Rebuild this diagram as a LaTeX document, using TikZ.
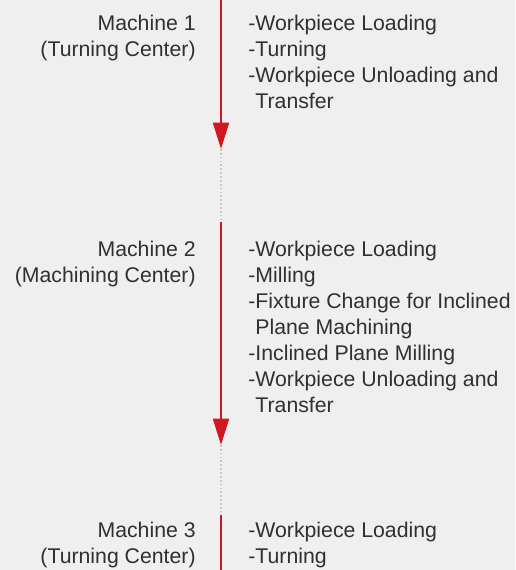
\documentclass[tikz,border=0pt]{standalone}
\usepackage{fontspec}
\setmainfont{Liberation Sans}
\usepackage{tikz}
\usetikzlibrary{arrows.meta, positioning}

\definecolor{flowred}{HTML}{D2161F}
\definecolor{pagegray}{HTML}{EFEFEF}
\definecolor{inkgray}{HTML}{303030}
\definecolor{gapgray}{HTML}{C6C6C6}

\begin{document}
\begin{tikzpicture}[
            x=0.02cm, y=-0.02cm,
            every node/.style={inner sep=0pt, text=inkgray,
                    font=\fontsize{12.1}{14.8}\selectfont},
            mach/.style={anchor=north east, align=right},
            ops/.style={anchor=north west, align=left},
            flow/.style={draw=flowred, line width=1.45pt,
                    -{Triangle[length=15pt, width=9pt]}},
            stem/.style={draw=flowred, line width=1.45pt},
            gap/.style={draw=gapgray, line width=0.9pt,
                    dash pattern=on 1pt off 1.2pt}]
        \fill[pagegray] (0,0) rectangle (515,570);
        \useasboundingbox (0,0) rectangle (515,570);

        % machine names on the left, operations on the right
        \node[mach] (m1) at (196,14.8) {Machine 1\\(Turning Center)};
        \node[ops] (o1) at (248,14.8) {-Workpiece Loading\\-Turning\\
                -Workpiece Unloading and\\\phantom{-}Transfer};
        \node[mach] (m2) at (196,240.8) {Machine 2\\(Machining Center)};
        \node[ops] (o2) at (248,240.8) {-Workpiece Loading\\-Milling\\
                -Fixture Change for Inclined\\\phantom{-}Plane Machining\\
                -Inclined Plane Milling\\-Workpiece Unloading and\\
                \phantom{-}Transfer};
        \node[mach] (m3) at (196,521.8) {Machine 3\\(Turning Center)};
        \node[ops] (o3) at (248,521.8) {-Workpiece Loading\\-Turning};

        % process line
        \coordinate (s1) at (221,0);
        \coordinate (e1) at (221,149);
        \coordinate (s2) at (221,222);
        \coordinate (e2) at (221,445);
        \coordinate (s3) at (221,515);
        \coordinate (e3) at (221,570);
        \draw[flow] (s1) -- (e1);
        \draw[gap] (e1) -- (s2);
        \draw[flow] (s2) -- (e2);
        \draw[gap] (e2) -- (s3);
        \draw[stem] (s3) -- (e3);
    \end{tikzpicture}
\end{document}
